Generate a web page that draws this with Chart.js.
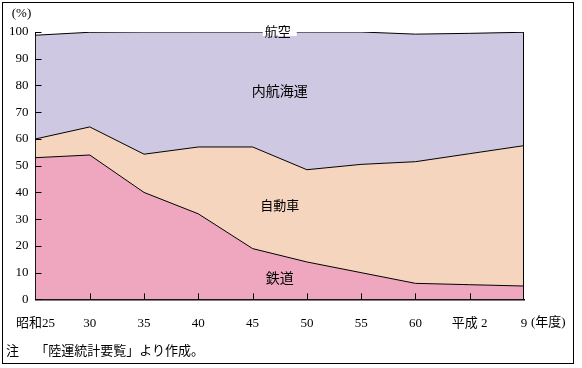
<!DOCTYPE html>
<html>
<head>
<meta charset="utf-8">
<script src="https://cdn.jsdelivr.net/npm/chart.js@4"></script>
<style>
  body { margin: 0; background: #fff; }
  #wrap { position: relative; width: 582px; height: 368px; }
  #myChart { position: absolute; left: 0; top: 0; }
  #frame { position: absolute; left: 2px; top: 2px; width: 570px; height: 360px; border: 1px solid #000; pointer-events: none; }
  #note { position: absolute; left: 6px; top: 340px; font: 13px "Liberation Serif", "Noto Sans CJK JP", serif; color: #000; white-space: pre; }
</style>
</head>
<body>
<div id="wrap">
  <canvas id="myChart" width="582" height="368"></canvas>
  <div id="frame"></div>
  <div id="note">注　 「陸運統計要覧」より作成。</div>
</div>
<script>
// 輸送機関別 国内貨物輸送分担率 (%)
const years = ['昭和25', '30', '35', '40', '45', '50', '55', '60', '平成 2', '9'];
const tetsudo = [53, 54, 40, 32, 19, 14, 10, 6, 5.5, 5];
const jidosha = [7, 10.5, 14.3, 25, 38, 34.5, 40.5, 45.5, 49, 52.5];
const naiko = [38.8, 35.4, 45.7, 43, 43, 51.5, 49.5, 47.7, 45, 42.4];
const koku = [1.2, 0.1, 0, 0, 0, 0, 0, 0.8, 0.5, 0.1];
const yTicks = [0, 10, 20, 30, 40, 50, 60, 70, 80, 90, 100];

const FONT = '"Liberation Serif", "Noto Sans CJK JP", serif';

// 目盛りを内側に描く・ラベルなど
const extras = {
  id: 'extras',
  afterDatasetsDraw(chart) {
    const c = chart.ctx;
    const x = chart.scales.x;
    const y = chart.scales.y;
    const area = chart.chartArea;
    c.save();
    c.strokeStyle = '#000';
    c.lineWidth = 1;
    // 右端の縦線
    const topMeta = chart.getDatasetMeta(2).data;
    const last = topMeta[topMeta.length - 1];
    c.beginPath();
    c.moveTo(Math.round(area.right) - 0.5, area.bottom);
    c.lineTo(Math.round(area.right) - 0.5, last.y);
    c.stroke();
    // 軸の目盛り（内向き）
    c.beginPath();
    yTicks.forEach(v => {
      const py = Math.round(y.getPixelForValue(v)) + 0.5;
      c.moveTo(area.left, py);
      c.lineTo(area.left + 6, py);
    });
    years.forEach((_, i) => {
      if (i === 0 || i === years.length - 1) return;
      const px = Math.round(x.getPixelForValue(i)) + 0.5;
      c.moveTo(px, area.bottom);
      c.lineTo(px, area.bottom - 6);
    });
    c.stroke();

    c.fillStyle = '#000';
    c.textBaseline = 'middle';
    // 系列名
    const mid = x.getPixelForValue(4.5);
    c.font = '13px ' + FONT;
    c.textAlign = 'center';
    const ky = y.getPixelForValue(100);
    c.fillStyle = '#fff';
    c.fillRect(mid - 17, ky - 4, 34, 8);
    c.fillStyle = '#000';
    c.fillText('航空', mid - 2, ky + 1);
    c.font = '14px ' + FONT;
    c.fillText('内航海運', mid, y.getPixelForValue(77.3));
    c.font = '13px ' + FONT;
    c.fillText('自動車', mid, y.getPixelForValue(34.6));
    c.font = '14px ' + FONT;
    c.fillText('鉄道', mid, y.getPixelForValue(7.5));
    // 単位
    c.font = '13px ' + FONT;
    c.fillText('(%)', area.left - 14, area.top - 18);
    c.textAlign = 'left';
    c.fillText('(年度)', x.getPixelForValue(years.length - 1) + 7, area.bottom + 23);
    c.restore();
  }
};

const ctx = document.getElementById('myChart');

new Chart(ctx, {
  type: 'line',
  data: {
    labels: years,
    datasets: [
      { label: '鉄道', data: tetsudo, backgroundColor: '#EEA7BE', fill: 'origin' },
      { label: '自動車', data: jidosha, backgroundColor: '#F6D5BE', fill: '-1' },
      { label: '内航海運', data: naiko, backgroundColor: '#CEC8E2', fill: '-1' },
      { label: '航空', data: koku, backgroundColor: 'rgba(0,0,0,0)', borderWidth: 0, fill: false }
    ]
  },
  options: {
    responsive: false,
    animation: false,
    events: [],
    elements: {
      line: { borderColor: '#000', borderWidth: 1, tension: 0 },
      point: { radius: 0 }
    },
    layout: { padding: { left: 0, right: 58, top: 32, bottom: 21 } },
    plugins: {
      legend: { display: false },
      tooltip: { enabled: false }
    },
    scales: {
      x: {
        offset: false,
        grid: { display: false, drawTicks: false },
        border: { display: true, color: '#000', width: 1.5 },
        ticks: { color: '#000', padding: 16, maxRotation: 0, autoSkip: false, font: { family: FONT, size: 13 } }
      },
      y: {
        stacked: true,
        min: 0,
        max: 100,
        afterFit(scale) { scale.width = 34; },
        grid: { display: false, drawTicks: false },
        border: { display: true, color: '#000', width: 1 },
        ticks: { stepSize: 10, color: '#000', padding: 7, font: { family: FONT, size: 13 } }
      }
    }
  },
  plugins: [extras]
});
</script>
</body>
</html>
